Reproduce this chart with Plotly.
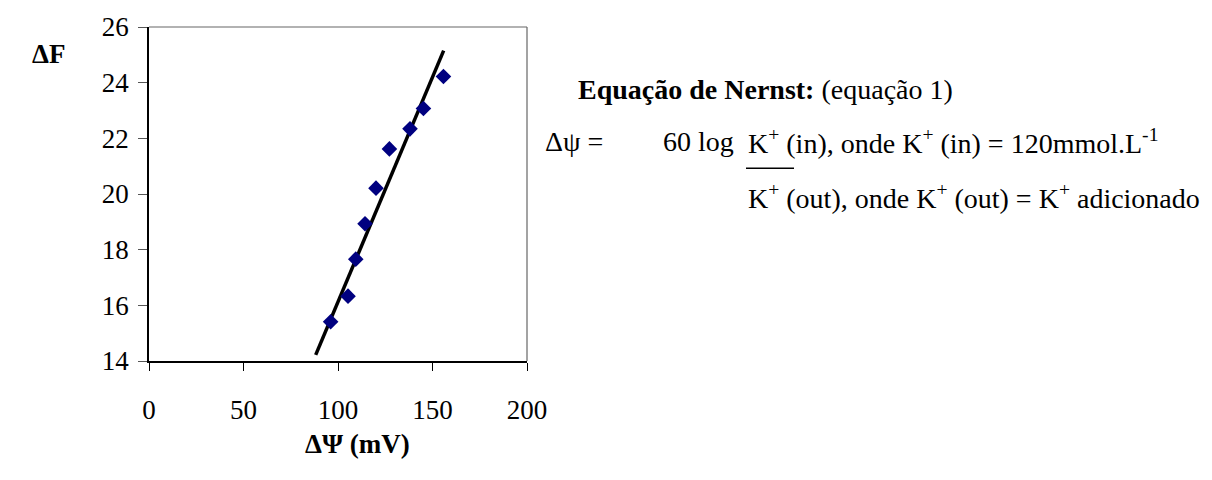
import plotly.graph_objects as go

# Fluorescence change vs. membrane potential
delta_psi = [96.1, 105.3, 109.4, 114.3, 120.1, 127.2, 138.1, 145.2, 155.8]
delta_f = [15.41, 16.33, 17.66, 18.93, 20.21, 21.62, 22.34, 23.07, 24.22]

# Linear trend line endpoints
trend_x = [88.2, 155.9]
trend_y = [14.22, 25.15]

x_ticks = [0, 50, 100, 150, 200]
y_ticks = [14, 16, 18, 20, 22, 24, 26]

W, H = 1212, 480
L, R, T, B = 149, 527, 23, 361   # plot area in pixels

FONT = "Liberation Serif, Times New Roman, serif"
FS = 27      # axis text
FT = 28      # equation text


def px(x):
    return (x - L) / (R - L)


def py(y):
    return (B - y) / (B - T)


fig = go.Figure()

fig.add_trace(go.Scatter(
    x=trend_x, y=trend_y, mode="lines",
    line=dict(color="black", width=3.5),
    hoverinfo="skip", showlegend=False,
))
fig.add_trace(go.Scatter(
    x=delta_psi, y=delta_f, mode="markers",
    marker=dict(symbol="diamond", size=12, color="#000080",
                line=dict(width=0)),
    showlegend=False,
))

fig.update_layout(
    width=W, height=H, autosize=False,
    margin=dict(l=L, r=W - R, t=T, b=H - B, pad=0),
    paper_bgcolor="white", plot_bgcolor="white",
    font=dict(family=FONT, size=FS, color="black"),
    xaxis=dict(
        range=[0, 200], tickvals=x_ticks, ticks="outside", ticklen=8,
        tickcolor="black", showline=True, linecolor="black", linewidth=1.5,
        showgrid=False, zeroline=False,
        tickfont=dict(family=FONT, size=FS, color="black"),
        ticklabelstandoff=16,
    ),
    yaxis=dict(
        range=[14, 26], tickvals=y_ticks, ticks="outside", ticklen=9,
        tickcolor="#555555", showline=True, linecolor="black", linewidth=1.5,
        showgrid=False, zeroline=False,
        tickfont=dict(family=FONT, size=FS, color="black"),
        ticklabelstandoff=4,
    ),
)

# Plot-area border (top and right)
fig.add_shape(type="line", xref="paper", yref="paper", x0=0, x1=1, y0=1, y1=1,
              line=dict(color="#666666", width=1.2))
fig.add_shape(type="line", xref="paper", yref="paper", x0=1, x1=1, y0=0, y1=1,
              line=dict(color="#666666", width=1.2))


def text(x, y, s, anchor="left", size=FT):
    fig.add_annotation(
        x=px(x), y=py(y), xref="paper", yref="paper", text=s,
        showarrow=False, xanchor=anchor, yanchor="middle",
        font=dict(family=FONT, size=size, color="black"),
    )


text(48, 50, "<b>ΔF</b>", anchor="center", size=FS)
text(357, 445, "<b>ΔΨ (mV)</b>", anchor="center", size=FS)

# Nernst equation, written as a fraction K+(in) / K+(out)
K_COL = 746
text(576, 86, "<b>Equação de Nernst:</b> (equação 1)")
text(543, 139, "Δψ =")
text(K_COL - 10, 139, "60 log", anchor="right")
text(K_COL, 139, "K<sup>+</sup> (in), onde K<sup>+</sup> (in) = 120mmol.L<sup>-1</sup>")
text(K_COL, 195, "K<sup>+</sup> (out), onde K<sup>+</sup> (out) = K<sup>+</sup> adicionado")

# Fraction bar under the numerator
fig.add_shape(type="line", xref="paper", yref="paper",
              x0=px(K_COL), x1=px(K_COL + 48), y0=py(166), y1=py(166),
              line=dict(color="black", width=1.5))

fig.write_html("out.html")
